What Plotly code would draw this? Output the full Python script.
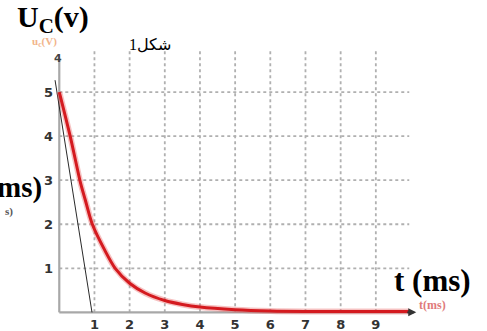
import plotly.graph_objects as go

# ---- data ----
t_ms = [0, 0.31, 0.6, 0.74, 0.94, 1.3, 1.59, 2.0, 2.44, 3.0, 3.5, 4.0, 5.0, 6.0, 7.0, 8.0, 9.0, 9.95]
uc_v = [5.0, 4.0, 2.95, 2.55, 2.0, 1.40, 1.0, 0.66, 0.44, 0.27, 0.18, 0.12, 0.06, 0.03, 0.02, 0.02, 0.02, 0.02]
tangent_t = [-0.12, 0.93]
tangent_u = [5.27, 0.0]
x_ticks = [1, 2, 3, 4, 5, 6, 7, 8, 9]
y_ticks = [1, 2, 3, 4, 5]

W, H = 487, 331
L, R, T, B = 53.5, 75.5, 48, 16.36
PW, PH = W - L - R, H - T - B

def paper(px, py):
    return (px - L) / PW, (H - B - py) / PH

fig = go.Figure()

# gridlines (dotted)
shapes = []
for xv in x_ticks:
    shapes.append(dict(type="line", xref="x", yref="y", x0=xv, x1=xv, y0=0, y1=5.95,
                       line=dict(color="#b0b0b0", width=1.8, dash="dot"), layer="below"))
for yv in y_ticks:
    shapes.append(dict(type="line", xref="x", yref="y", x0=0, x1=9.95, y0=yv, y1=yv,
                       line=dict(color="#b0b0b0", width=1.8, dash="dot"), layer="below"))
# axes lines
shapes.append(dict(type="line", xref="x", yref="y", x0=0, x1=0, y0=0, y1=5.75,
                   line=dict(color="#a8a8a8", width=2.2), layer="below"))
shapes.append(dict(type="line", xref="x", yref="y", x0=0, x1=10.0, y0=0, y1=0,
                   line=dict(color="#a8a8a8", width=2.2), layer="below"))

# tangent line
fig.add_trace(go.Scatter(x=tangent_t, y=tangent_u, mode="lines",
                         line=dict(color="#111111", width=0.9), hoverinfo="skip"))
# glow + red curve
fig.add_trace(go.Scatter(x=t_ms, y=uc_v, mode="lines", line_shape="spline",
                         line=dict(color="rgba(230,80,80,0.35)", width=6, smoothing=0.8),
                         hoverinfo="skip"))
fig.add_trace(go.Scatter(x=t_ms, y=uc_v, mode="lines", line_shape="spline",
                         line=dict(color="#d41a1f", width=3, smoothing=0.8)))

annotations = []
def txt(text, px, py, size, color="#000", family="Liberation Serif, Times New Roman, serif",
        xanchor="center", bold=True):
    xp, yp = paper(px, py)
    annotations.append(dict(text=text, x=xp, y=yp, xref="paper", yref="paper", showarrow=False,
                            xanchor=xanchor, yanchor="middle",
                            font=dict(size=size, color=color, family=family,
                                      weight="bold" if bold else "normal")))

txt("U<sub>C</sub>(v)", 52, 19, 30)
txt("ms)", 43, 187, 29, xanchor="right")
txt("s)", 8, 211, 11, color="#555")
txt("شكل1", 150, 45, 16, family="Liberation Serif, DejaVu Sans, serif", bold=False)
txt("t (ms)", 433, 280, 31)
txt("t(ms)", 433, 305, 12, color="#e07a7a")
txt("u<sub>c</sub>(V)", 44, 42, 11, color="#f2b48a")
txt("4", 58, 58, 11, color="#444", family="DejaVu Sans, sans-serif")

# arrowhead of time axis
annotations.append(dict(x=10.15, y=0, ax=9.85, ay=0, xref="x", yref="y", axref="x", ayref="y",
                        showarrow=True, arrowhead=2, arrowsize=1, arrowwidth=1.6,
                        arrowcolor="#333", text=""))

tick_font = dict(family="DejaVu Sans, sans-serif", size=13, color="#333", weight="bold")
fig.update_layout(
    width=W, height=H, margin=dict(l=L, r=R, t=T, b=B, pad=0, autoexpand=False),
    paper_bgcolor="white", plot_bgcolor="white", showlegend=False,
    shapes=shapes, annotations=annotations,
    xaxis=dict(range=[-0.15, 10.0], tickvals=x_ticks, ticktext=[str(v) for v in x_ticks],
               showgrid=False, zeroline=False, showline=False, ticks="", automargin=False,
               tickfont=tick_font),
    yaxis=dict(range=[-0.06, 6.0], tickvals=y_ticks, ticktext=[str(v) for v in y_ticks],
               showgrid=False, zeroline=False, showline=False, ticks="", automargin=False,
               tickfont=tick_font),
)

fig.write_html("out.html", config={"displayModeBar": False},
               post_script="document.body.style.margin='0';document.body.style.padding='0';")
